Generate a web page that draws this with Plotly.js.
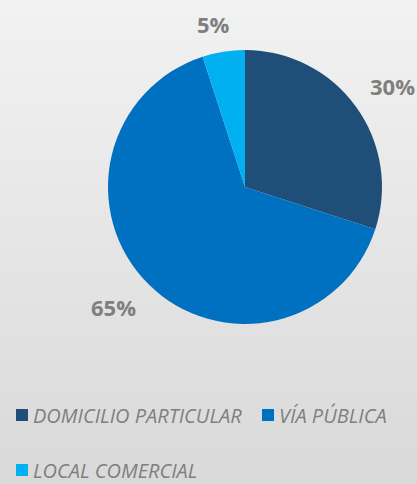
<!DOCTYPE html>
<html>
<head>
<meta charset="utf-8">
<script src="https://cdn.plot.ly/plotly-3.0.1.min.js"></script>
<style>
  html, body { margin: 0; padding: 0; }
  body { width: 417px; height: 484px; background: linear-gradient(to bottom, #f2f2f2 0%, #d9d9d9 100%); }
  #chart { width: 417px; height: 484px; }
</style>
</head>
<body>
<div id="chart"></div>
<script>
const categories = ['DOMICILIO PARTICULAR', 'VÍA PÚBLICA', 'LOCAL COMERCIAL'];
const values = [30, 65, 5];
const colors = ['#1f4e79', '#0070c0', '#00b0f0'];

const W = 417, H = 484;
const domX = [0.259, 0.916];
const domY = [0.3306, 0.8967];
const textGrey = '#7f7f7f';

// percentage labels placed outside the pie from the data angles
const total = values.reduce((a, b) => a + b, 0);
const cxPx = (domX[0] + domX[1]) / 2 * W;
const cyPx = H - (domY[0] + domY[1]) / 2 * H;
const Rpx = Math.min((domX[1] - domX[0]) * W, (domY[1] - domY[0]) * H) / 2;
const clamp = v => Math.max(-1, Math.min(1, v));
let cum = 0;
const annotations = values.map((v, i) => {
  const mid = (cum + v / 2) / total * 2 * Math.PI;
  cum += v;
  const dx = Math.sin(mid), dy = -Math.cos(mid);
  const txt = Math.round(v / total * 100) + '%';
  const hw = txt.length * 7.3, hh = 10;
  const ax = cxPx + (Rpx + 18) * dx, ay = cyPx + (Rpx + 18) * dy;
  const px = ax + clamp(dx * 3) * hw, py = ay + clamp(dy * 3) * hh;
  return {
    x: px / W, y: 1 - py / H, xref: 'paper', yref: 'paper',
    xanchor: 'center', yanchor: 'middle', showarrow: false,
    text: txt,
    font: { family: 'Open Sans', size: 22, weight: 700, color: textGrey }
  };
});

// legend (flow layout like the original: two entries on first row, one below)
const legendSlots = [[16, 415], [262, 415], [16, 470]];
const shapes = [];
categories.forEach((c, i) => {
  const [lx, ly] = legendSlots[i];
  shapes.push({
    type: 'rect', xref: 'paper', yref: 'paper',
    x0: lx / W, x1: (lx + 12) / W, y0: 1 - (ly + 6) / H, y1: 1 - (ly - 6) / H,
    fillcolor: colors[i], line: { width: 0 }
  });
  annotations.push({
    x: (lx + 15) / W, y: 1 - ly / H, xref: 'paper', yref: 'paper',
    xanchor: 'left', yanchor: 'middle', showarrow: false,
    text: c,
    font: { family: 'Open Sans', size: 20, style: 'italic', color: textGrey }
  });
});

const trace = {
  type: 'pie',
  labels: categories,
  values: values,
  marker: { colors: colors, line: { width: 0 } },
  sort: false,
  direction: 'clockwise',
  rotation: 0,
  textinfo: 'none',
  hoverinfo: 'label+percent',
  domain: { x: domX, y: domY }
};

const layout = {
  width: W, height: H,
  margin: { l: 0, r: 0, t: 0, b: 0 },
  paper_bgcolor: 'rgba(0,0,0,0)',
  plot_bgcolor: 'rgba(0,0,0,0)',
  showlegend: false,
  annotations: annotations,
  shapes: shapes
};

Plotly.newPlot('chart', [trace], layout, { displayModeBar: false, staticPlot: true });
</script>
</body>
</html>
